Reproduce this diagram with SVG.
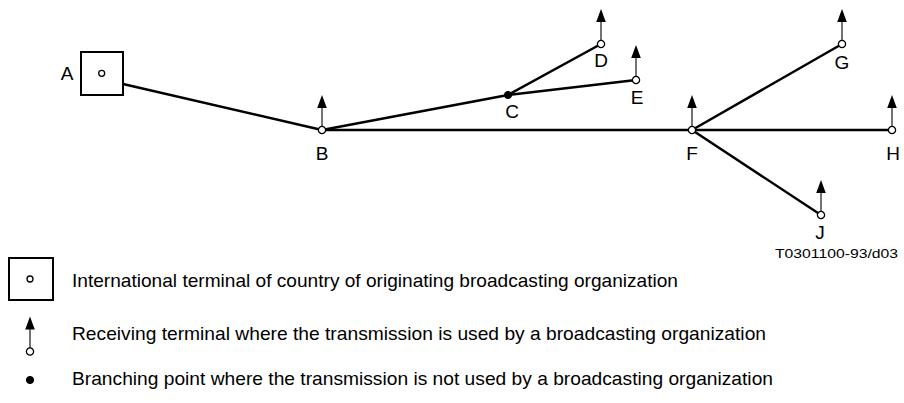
<svg xmlns="http://www.w3.org/2000/svg" width="904" height="403" viewBox="0 0 904 403">
<style>
  text { font-family: "Liberation Sans", Arial, Helvetica, sans-serif; fill: #000; }
  .lbl { font-size: 19px; text-anchor: middle; }
  .leg { font-size: 19px; }
  .code { font-size: 13px; }
  .link { stroke: #000; stroke-width: 2.5; fill: none; stroke-linecap: round; }
  .term { fill: #fff; stroke: #000; stroke-width: 1.3; }
  .branch { fill: #000; stroke: #000; stroke-width: 1; }
  .stem { stroke: #000; stroke-width: 1.1; }
  .box { fill: #fff; stroke: #000; stroke-width: 2; }
</style>
<defs>
  <g id="rx">
    <line class="stem" x1="0" y1="-3.5" x2="0" y2="-23"/>
    <polygon points="0,-35 -4.8,-22 4.8,-22" fill="#000"/>
    <circle class="term" cx="0" cy="0" r="3.6"/>
  </g>
</defs>
<rect width="904" height="403" fill="#fff"/>

<g id="connectors">
  <line class="link" x1="123" y1="84" x2="322" y2="130"/>
  <line class="link" x1="322" y1="130" x2="692" y2="130"/>
  <line class="link" x1="322" y1="130" x2="508" y2="95"/>
  <line class="link" x1="508" y1="95" x2="601" y2="44"/>
  <line class="link" x1="508" y1="95" x2="636" y2="80"/>
  <line class="link" x1="692" y1="130" x2="842" y2="44"/>
  <line class="link" x1="692" y1="130" x2="892" y2="130"/>
  <line class="link" x1="692" y1="130" x2="821" y2="215"/>
</g>

<g id="node-A">
  <rect class="box" x="81" y="52" width="42" height="43"/>
  <circle class="term" cx="101.7" cy="73.3" r="3"/>
  <text class="lbl" x="67" y="80">A</text>
</g>
<g id="node-B">
  <use href="#rx" x="322" y="130"/>
  <text class="lbl" x="322" y="160">B</text>
</g>
<g id="node-C">
  <circle class="branch" cx="508" cy="95" r="3.6"/>
  <text class="lbl" x="512" y="118">C</text>
</g>
<g id="node-D">
  <use href="#rx" x="601" y="44"/>
  <text class="lbl" x="601" y="67">D</text>
</g>
<g id="node-E">
  <use href="#rx" x="636" y="80"/>
  <text class="lbl" x="637" y="104">E</text>
</g>
<g id="node-F">
  <use href="#rx" x="692" y="130"/>
  <text class="lbl" x="692" y="160">F</text>
</g>
<g id="node-G">
  <use href="#rx" x="842" y="44"/>
  <text class="lbl" x="842" y="69">G</text>
</g>
<g id="node-H">
  <use href="#rx" x="892" y="130"/>
  <text class="lbl" x="893" y="160">H</text>
</g>
<g id="node-J">
  <use href="#rx" x="821" y="215"/>
  <text class="lbl" x="820" y="239">J</text>
</g>

<text class="code" x="775" y="258" textLength="123" lengthAdjust="spacingAndGlyphs">T0301100-93/d03</text>

<g id="legend">
  <rect class="box" x="9" y="258" width="44" height="42"/>
  <circle class="term" cx="30" cy="279" r="3"/>
  <text class="leg" x="72" y="287" textLength="606" lengthAdjust="spacingAndGlyphs">International terminal of country of originating broadcasting organization</text>
  <use href="#rx" x="30" y="351.5"/>
  <text class="leg" x="72" y="340" textLength="694" lengthAdjust="spacingAndGlyphs">Receiving terminal where the transmission is used by a broadcasting organization</text>
  <circle class="branch" cx="30" cy="380" r="3.6"/>
  <text class="leg" x="72" y="385" textLength="701" lengthAdjust="spacingAndGlyphs">Branching point where the transmission is not used by a broadcasting organization</text>
</g>
</svg>
